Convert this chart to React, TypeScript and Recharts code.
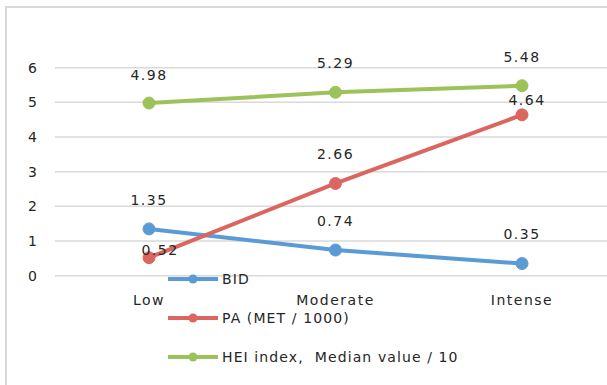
import React from 'react'
import { LineChart, Line, XAxis, YAxis, CartesianGrid, LabelList } from 'recharts'

const categories = ['Low', 'Moderate', 'Intense']
const bid = [1.35, 0.74, 0.35]
const pa = [0.52, 2.66, 4.64]
const hei = [4.98, 5.29, 5.48]
const yTicks = [0, 1, 2, 3, 4, 5, 6]

const data = categories.map((c, i) => ({ name: c, bid: bid[i], pa: pa[i], hei: hei[i] }))

const FONT = '"DejaVu Sans", sans-serif'
const TEXT = '#262626'

const series = [
  { key: 'bid', name: 'BID', color: '#5b9bd5' },
  { key: 'pa', name: 'PA (MET / 1000)', color: '#db6660' },
  { key: 'hei', name: 'HEI index,  Median value / 10', color: '#9bc35a' },
]

// Excel labels sit above the point; two of the PA labels were nudged by hand
const labelShift: Record<string, { dx: number; dy: number }[]> = {
  bid: [{ dx: 0, dy: -29 }, { dx: 0, dy: -29 }, { dx: 0, dy: -30 }],
  pa: [{ dx: 11, dy: -8 }, { dx: 0, dy: -30 }, { dx: 5, dy: -15 }],
  hei: [{ dx: 0, dy: -28 }, { dx: 0, dy: -29 }, { dx: 0, dy: -29 }],
}

function makeLabel(key: string) {
  return (props: any) => {
    const { x, y, value, index } = props
    const s = labelShift[key][index]
    return (
      <text
        x={x + s.dx}
        y={y + s.dy}
        dy="0.36em"
        textAnchor="middle"
        fontFamily={FONT}
        fontSize={14}
        letterSpacing={1.5}
        fill={TEXT}
      >
        {value.toFixed(2)}
      </text>
    )
  }
}

function LegendBox() {
  return (
    <div
      style={{
        position: 'absolute',
        left: 167,
        top: 259,
        fontFamily: FONT,
        fontSize: 14,
        letterSpacing: 1.1,
        color: TEXT,
      }}
    >
      {series.map((s) => (
        <div key={s.key} style={{ display: 'flex', alignItems: 'center', height: 39 }}>
          <svg width={52} height={12} style={{ marginRight: 3 }}>
            <line x1={1} y1={6} x2={51} y2={6} stroke={s.color} strokeWidth={4} />
            <circle cx={26} cy={6} r={4.5} fill={s.color} />
          </svg>
          <span style={{ whiteSpace: 'pre' }}>{s.name}</span>
        </div>
      ))}
    </div>
  )
}

export default function App() {
  return (
    <div
      style={{
        position: 'absolute',
        left: 0,
        top: 0,
        width: 607,
        height: 385,
        overflow: 'hidden',
        background: '#fff',
      }}
    >
      <div
        style={{
          position: 'absolute',
          left: 5,
          top: 6,
          width: 700,
          height: 500,
          border: '2px solid #d9d9d9',
        }}
      />
      <div style={{ position: 'absolute', left: 0, top: 0 }}>
        <LineChart
          width={640}
          height={400}
          data={data}
          margin={{ top: 67.7, right: 25, left: 10, bottom: 94.3 }}
        >
          <CartesianGrid horizontal vertical={false} stroke="#d9d9d9" strokeWidth={1.5} />
          <XAxis
            dataKey="name"
            height={30}
            axisLine={false}
            tickLine={false}
            tickMargin={13}
            interval={0}
            padding={{ left: 94, right: 93 }}
            tick={{ fontFamily: FONT, fontSize: 14, fill: TEXT, letterSpacing: 1.5 } as any}
          />
          <YAxis
            width={45}
            domain={[0, 6]}
            ticks={yTicks}
            interval={0}
            axisLine={false}
            tickLine={false}
            tickMargin={12}
            tick={{ fontFamily: FONT, fontSize: 14, fill: TEXT }}
          />
          {series.map((s) => (
            <Line
              key={s.key}
              dataKey={s.key}
              name={s.name}
              stroke={s.color}
              strokeWidth={4}
              dot={{ r: 6, fill: s.color, stroke: s.color, strokeWidth: 1 }}
              isAnimationActive={false}
            >
              <LabelList dataKey={s.key} content={makeLabel(s.key)} />
            </Line>
          ))}
        </LineChart>
      </div>
      <LegendBox />
    </div>
  )
}
